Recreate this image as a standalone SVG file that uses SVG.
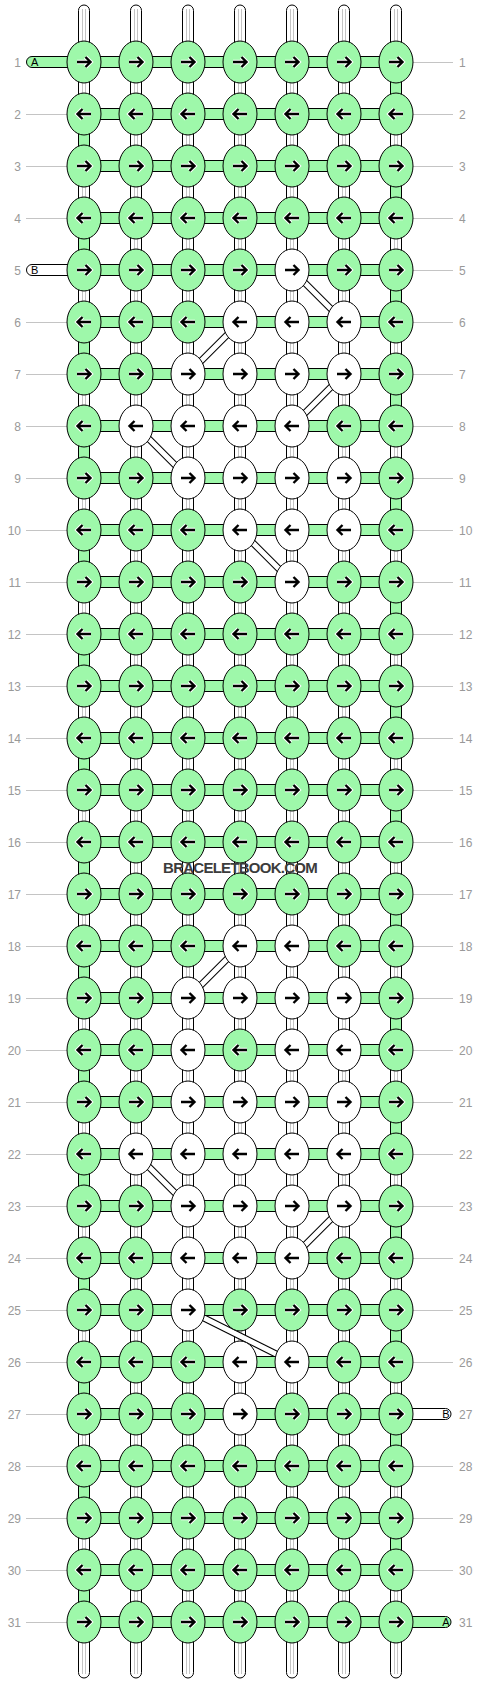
<svg xmlns="http://www.w3.org/2000/svg" xmlns:xlink="http://www.w3.org/1999/xlink" width="480" height="1684" viewBox="0 0 480 1684">
<style>
.g{fill:#9ef8aa;stroke:#000;stroke-width:1}
.w{fill:#fff;stroke:#000;stroke-width:1}
.ah{fill:none;stroke:#fff;stroke-width:4.4}
.a{fill:none;stroke:#000;stroke-width:2.4}
.in{stroke:#c4c4c4;stroke-width:1}
.gl{stroke:#c4c4c4;stroke-width:1}
.lb{font-family:"Liberation Sans",Arial,sans-serif;font-size:12px;fill:#999}
.sl{font-family:"Liberation Sans",Arial,sans-serif;font-size:11px;fill:#000}
.db{stroke:#000;stroke-width:7;fill:none}
.dw{stroke:#fff;stroke-width:5;fill:none}
.wm{font-family:"Liberation Sans",Arial,sans-serif;font-size:15px;font-weight:bold;fill:#3c3c3c;letter-spacing:-0.75px}
</style>
<defs>
<path id="pr" d="M-7,0H6M1.5,-5L6.5,0L1.5,5"/>
<path id="pl" d="M7,0H-6M-1.5,-5L-6.5,0L-1.5,5"/>
<g id="GR"><ellipse class="g" rx="17" ry="21"/><use href="#pr" class="ah"/><use href="#pr" class="a"/></g>
<g id="GL"><ellipse class="g" rx="17" ry="21"/><use href="#pl" class="ah"/><use href="#pl" class="a"/></g>
<g id="WR"><ellipse class="w" rx="17" ry="21"/><use href="#pr" class="a"/></g>
<g id="WL"><ellipse class="w" rx="17" ry="21"/><use href="#pl" class="a"/></g>
<g id="vs"><rect class="w" x="-5.5" y="5" width="11" height="1673" rx="5.5"/><line class="in" x1="-1.5" y1="9" x2="-1.5" y2="1674"/><line class="in" x1="1.5" y1="9" x2="1.5" y2="1674"/></g>
</defs>
<rect width="480" height="1684" fill="#fff"/>
<g id="labels">
<g class="gl">
<line x1="26" y1="114.5" x2="67" y2="114.5"/><line x1="26" y1="166.5" x2="67" y2="166.5"/><line x1="26" y1="218.5" x2="67" y2="218.5"/><line x1="26" y1="322.5" x2="67" y2="322.5"/><line x1="26" y1="374.5" x2="67" y2="374.5"/><line x1="26" y1="426.5" x2="67" y2="426.5"/><line x1="26" y1="478.5" x2="67" y2="478.5"/><line x1="26" y1="530.5" x2="67" y2="530.5"/><line x1="26" y1="582.5" x2="67" y2="582.5"/><line x1="26" y1="634.5" x2="67" y2="634.5"/><line x1="26" y1="686.5" x2="67" y2="686.5"/><line x1="26" y1="738.5" x2="67" y2="738.5"/><line x1="26" y1="790.5" x2="67" y2="790.5"/><line x1="26" y1="842.5" x2="67" y2="842.5"/><line x1="26" y1="894.5" x2="67" y2="894.5"/><line x1="26" y1="946.5" x2="67" y2="946.5"/><line x1="26" y1="998.5" x2="67" y2="998.5"/><line x1="26" y1="1050.5" x2="67" y2="1050.5"/><line x1="26" y1="1102.5" x2="67" y2="1102.5"/><line x1="26" y1="1154.5" x2="67" y2="1154.5"/><line x1="26" y1="1206.5" x2="67" y2="1206.5"/><line x1="26" y1="1258.5" x2="67" y2="1258.5"/><line x1="26" y1="1310.5" x2="67" y2="1310.5"/><line x1="26" y1="1362.5" x2="67" y2="1362.5"/><line x1="26" y1="1414.5" x2="67" y2="1414.5"/><line x1="26" y1="1466.5" x2="67" y2="1466.5"/><line x1="26" y1="1518.5" x2="67" y2="1518.5"/><line x1="26" y1="1570.5" x2="67" y2="1570.5"/><line x1="26" y1="1622.5" x2="67" y2="1622.5"/>
<line x1="413" y1="62.5" x2="453" y2="62.5"/><line x1="413" y1="114.5" x2="453" y2="114.5"/><line x1="413" y1="166.5" x2="453" y2="166.5"/><line x1="413" y1="218.5" x2="453" y2="218.5"/><line x1="413" y1="270.5" x2="453" y2="270.5"/><line x1="413" y1="322.5" x2="453" y2="322.5"/><line x1="413" y1="374.5" x2="453" y2="374.5"/><line x1="413" y1="426.5" x2="453" y2="426.5"/><line x1="413" y1="478.5" x2="453" y2="478.5"/><line x1="413" y1="530.5" x2="453" y2="530.5"/><line x1="413" y1="582.5" x2="453" y2="582.5"/><line x1="413" y1="634.5" x2="453" y2="634.5"/><line x1="413" y1="686.5" x2="453" y2="686.5"/><line x1="413" y1="738.5" x2="453" y2="738.5"/><line x1="413" y1="790.5" x2="453" y2="790.5"/><line x1="413" y1="842.5" x2="453" y2="842.5"/><line x1="413" y1="894.5" x2="453" y2="894.5"/><line x1="413" y1="946.5" x2="453" y2="946.5"/><line x1="413" y1="998.5" x2="453" y2="998.5"/><line x1="413" y1="1050.5" x2="453" y2="1050.5"/><line x1="413" y1="1102.5" x2="453" y2="1102.5"/><line x1="413" y1="1154.5" x2="453" y2="1154.5"/><line x1="413" y1="1206.5" x2="453" y2="1206.5"/><line x1="413" y1="1258.5" x2="453" y2="1258.5"/><line x1="413" y1="1310.5" x2="453" y2="1310.5"/><line x1="413" y1="1362.5" x2="453" y2="1362.5"/><line x1="413" y1="1466.5" x2="453" y2="1466.5"/><line x1="413" y1="1518.5" x2="453" y2="1518.5"/><line x1="413" y1="1570.5" x2="453" y2="1570.5"/>
</g>
<g class="lb" text-anchor="end">
<text x="21" y="66.5">1</text><text x="21" y="118.5">2</text><text x="21" y="170.5">3</text><text x="21" y="222.5">4</text><text x="21" y="274.5">5</text><text x="21" y="326.5">6</text><text x="21" y="378.5">7</text><text x="21" y="430.5">8</text><text x="21" y="482.5">9</text><text x="21" y="534.5">10</text><text x="21" y="586.5">11</text><text x="21" y="638.5">12</text><text x="21" y="690.5">13</text><text x="21" y="742.5">14</text><text x="21" y="794.5">15</text><text x="21" y="846.5">16</text><text x="21" y="898.5">17</text><text x="21" y="950.5">18</text><text x="21" y="1002.5">19</text><text x="21" y="1054.5">20</text><text x="21" y="1106.5">21</text><text x="21" y="1158.5">22</text><text x="21" y="1210.5">23</text><text x="21" y="1262.5">24</text><text x="21" y="1314.5">25</text><text x="21" y="1366.5">26</text><text x="21" y="1418.5">27</text><text x="21" y="1470.5">28</text><text x="21" y="1522.5">29</text><text x="21" y="1574.5">30</text><text x="21" y="1626.5">31</text>
</g>
<g class="lb">
<text x="459" y="66.5">1</text><text x="459" y="118.5">2</text><text x="459" y="170.5">3</text><text x="459" y="222.5">4</text><text x="459" y="274.5">5</text><text x="459" y="326.5">6</text><text x="459" y="378.5">7</text><text x="459" y="430.5">8</text><text x="459" y="482.5">9</text><text x="459" y="534.5">10</text><text x="459" y="586.5">11</text><text x="459" y="638.5">12</text><text x="459" y="690.5">13</text><text x="459" y="742.5">14</text><text x="459" y="794.5">15</text><text x="459" y="846.5">16</text><text x="459" y="898.5">17</text><text x="459" y="950.5">18</text><text x="459" y="1002.5">19</text><text x="459" y="1054.5">20</text><text x="459" y="1106.5">21</text><text x="459" y="1158.5">22</text><text x="459" y="1210.5">23</text><text x="459" y="1262.5">24</text><text x="459" y="1314.5">25</text><text x="459" y="1366.5">26</text><text x="459" y="1418.5">27</text><text x="459" y="1470.5">28</text><text x="459" y="1522.5">29</text><text x="459" y="1574.5">30</text><text x="459" y="1626.5">31</text>
</g>
</g>
<g id="connectors">
<use href="#vs" x="84"/><use href="#vs" x="136"/><use href="#vs" x="188"/><use href="#vs" x="240"/><use href="#vs" x="292"/><use href="#vs" x="344"/><use href="#vs" x="396"/>
<g class="g">
<rect x="78.5" y="114" width="11" height="52"/><rect x="78.5" y="218" width="11" height="52"/><rect x="78.5" y="322" width="11" height="52"/><rect x="78.5" y="426" width="11" height="52"/><rect x="78.5" y="530" width="11" height="52"/><rect x="78.5" y="634" width="11" height="52"/><rect x="78.5" y="738" width="11" height="52"/><rect x="78.5" y="842" width="11" height="52"/><rect x="78.5" y="946" width="11" height="52"/><rect x="78.5" y="1050" width="11" height="52"/><rect x="78.5" y="1154" width="11" height="52"/><rect x="78.5" y="1258" width="11" height="52"/><rect x="78.5" y="1362" width="11" height="52"/><rect x="78.5" y="1466" width="11" height="52"/><rect x="78.5" y="1570" width="11" height="52"/>
<rect x="390.5" y="62" width="11" height="52"/><rect x="390.5" y="166" width="11" height="52"/><rect x="390.5" y="270" width="11" height="52"/><rect x="390.5" y="374" width="11" height="52"/><rect x="390.5" y="478" width="11" height="52"/><rect x="390.5" y="582" width="11" height="52"/><rect x="390.5" y="686" width="11" height="52"/><rect x="390.5" y="790" width="11" height="52"/><rect x="390.5" y="894" width="11" height="52"/><rect x="390.5" y="998" width="11" height="52"/><rect x="390.5" y="1102" width="11" height="52"/><rect x="390.5" y="1206" width="11" height="52"/><rect x="390.5" y="1310" width="11" height="52"/><rect x="390.5" y="1414" width="11" height="52"/><rect x="390.5" y="1518" width="11" height="52"/>
</g>
<g id="diagonals">
<path class="db" d="M292,270L344,322M240,322L188,374M344,374L292,426M136,426L188,478M240,530L292,582M240,946L188,998M136,1154L188,1206M344,1206L292,1258M188,1310L292,1362"/>
<path class="dw" d="M292,270L344,322M240,322L188,374M344,374L292,426M136,426L188,478M240,530L292,582M240,946L188,998M136,1154L188,1206M344,1206L292,1258M188,1310L292,1362"/>
</g>
<g class="g">
<rect x="84" y="56.5" width="312" height="11"/><rect x="84" y="108.5" width="312" height="11"/><rect x="84" y="160.5" width="312" height="11"/><rect x="84" y="212.5" width="312" height="11"/><rect x="84" y="264.5" width="312" height="11"/><rect x="84" y="316.5" width="312" height="11"/><rect x="84" y="368.5" width="312" height="11"/><rect x="84" y="420.5" width="312" height="11"/><rect x="84" y="472.5" width="312" height="11"/><rect x="84" y="524.5" width="312" height="11"/><rect x="84" y="576.5" width="312" height="11"/><rect x="84" y="628.5" width="312" height="11"/><rect x="84" y="680.5" width="312" height="11"/><rect x="84" y="732.5" width="312" height="11"/><rect x="84" y="784.5" width="312" height="11"/><rect x="84" y="836.5" width="312" height="11"/><rect x="84" y="888.5" width="312" height="11"/><rect x="84" y="940.5" width="312" height="11"/><rect x="84" y="992.5" width="312" height="11"/><rect x="84" y="1044.5" width="312" height="11"/><rect x="84" y="1096.5" width="312" height="11"/><rect x="84" y="1148.5" width="312" height="11"/><rect x="84" y="1200.5" width="312" height="11"/><rect x="84" y="1252.5" width="312" height="11"/><rect x="84" y="1304.5" width="312" height="11"/><rect x="84" y="1356.5" width="312" height="11"/><rect x="84" y="1408.5" width="312" height="11"/><rect x="84" y="1460.5" width="312" height="11"/><rect x="84" y="1512.5" width="312" height="11"/><rect x="84" y="1564.5" width="312" height="11"/><rect x="84" y="1616.5" width="312" height="11"/>
</g>
<g id="stringA-left"><rect class="g" x="26.5" y="56.5" width="60" height="11" rx="5.5"/><text class="sl" x="31" y="66">A</text></g>
<g id="stringB-left"><rect class="w" x="26.5" y="264.5" width="60" height="11" rx="5.5"/><text class="sl" x="31" y="274">B</text></g>
<g id="stringB-right"><rect class="w" x="393.5" y="1408.5" width="57.5" height="11" rx="5.5"/><text class="sl" x="449.5" y="1418" text-anchor="end">B</text></g>
<g id="stringA-right"><rect class="g" x="393.5" y="1616.5" width="57.5" height="11" rx="5.5"/><text class="sl" x="449.5" y="1626" text-anchor="end">A</text></g>
</g>
<g id="knots">
<g id="k1-1" transform="translate(84,62)"><use href="#GR"/></g><g id="k1-2" transform="translate(136,62)"><use href="#GR"/></g><g id="k1-3" transform="translate(188,62)"><use href="#GR"/></g><g id="k1-4" transform="translate(240,62)"><use href="#GR"/></g><g id="k1-5" transform="translate(292,62)"><use href="#GR"/></g><g id="k1-6" transform="translate(344,62)"><use href="#GR"/></g><g id="k1-7" transform="translate(396,62)"><use href="#GR"/></g>
<g id="k2-1" transform="translate(84,114)"><use href="#GL"/></g><g id="k2-2" transform="translate(136,114)"><use href="#GL"/></g><g id="k2-3" transform="translate(188,114)"><use href="#GL"/></g><g id="k2-4" transform="translate(240,114)"><use href="#GL"/></g><g id="k2-5" transform="translate(292,114)"><use href="#GL"/></g><g id="k2-6" transform="translate(344,114)"><use href="#GL"/></g><g id="k2-7" transform="translate(396,114)"><use href="#GL"/></g>
<g id="k3-1" transform="translate(84,166)"><use href="#GR"/></g><g id="k3-2" transform="translate(136,166)"><use href="#GR"/></g><g id="k3-3" transform="translate(188,166)"><use href="#GR"/></g><g id="k3-4" transform="translate(240,166)"><use href="#GR"/></g><g id="k3-5" transform="translate(292,166)"><use href="#GR"/></g><g id="k3-6" transform="translate(344,166)"><use href="#GR"/></g><g id="k3-7" transform="translate(396,166)"><use href="#GR"/></g>
<g id="k4-1" transform="translate(84,218)"><use href="#GL"/></g><g id="k4-2" transform="translate(136,218)"><use href="#GL"/></g><g id="k4-3" transform="translate(188,218)"><use href="#GL"/></g><g id="k4-4" transform="translate(240,218)"><use href="#GL"/></g><g id="k4-5" transform="translate(292,218)"><use href="#GL"/></g><g id="k4-6" transform="translate(344,218)"><use href="#GL"/></g><g id="k4-7" transform="translate(396,218)"><use href="#GL"/></g>
<g id="k5-1" transform="translate(84,270)"><use href="#GR"/></g><g id="k5-2" transform="translate(136,270)"><use href="#GR"/></g><g id="k5-3" transform="translate(188,270)"><use href="#GR"/></g><g id="k5-4" transform="translate(240,270)"><use href="#GR"/></g><g id="k5-5" transform="translate(292,270)"><use href="#WR"/></g><g id="k5-6" transform="translate(344,270)"><use href="#GR"/></g><g id="k5-7" transform="translate(396,270)"><use href="#GR"/></g>
<g id="k6-1" transform="translate(84,322)"><use href="#GL"/></g><g id="k6-2" transform="translate(136,322)"><use href="#GL"/></g><g id="k6-3" transform="translate(188,322)"><use href="#GL"/></g><g id="k6-4" transform="translate(240,322)"><use href="#WL"/></g><g id="k6-5" transform="translate(292,322)"><use href="#WL"/></g><g id="k6-6" transform="translate(344,322)"><use href="#WL"/></g><g id="k6-7" transform="translate(396,322)"><use href="#GL"/></g>
<g id="k7-1" transform="translate(84,374)"><use href="#GR"/></g><g id="k7-2" transform="translate(136,374)"><use href="#GR"/></g><g id="k7-3" transform="translate(188,374)"><use href="#WR"/></g><g id="k7-4" transform="translate(240,374)"><use href="#WR"/></g><g id="k7-5" transform="translate(292,374)"><use href="#WR"/></g><g id="k7-6" transform="translate(344,374)"><use href="#WR"/></g><g id="k7-7" transform="translate(396,374)"><use href="#GR"/></g>
<g id="k8-1" transform="translate(84,426)"><use href="#GL"/></g><g id="k8-2" transform="translate(136,426)"><use href="#WL"/></g><g id="k8-3" transform="translate(188,426)"><use href="#WL"/></g><g id="k8-4" transform="translate(240,426)"><use href="#WL"/></g><g id="k8-5" transform="translate(292,426)"><use href="#WL"/></g><g id="k8-6" transform="translate(344,426)"><use href="#GL"/></g><g id="k8-7" transform="translate(396,426)"><use href="#GL"/></g>
<g id="k9-1" transform="translate(84,478)"><use href="#GR"/></g><g id="k9-2" transform="translate(136,478)"><use href="#GR"/></g><g id="k9-3" transform="translate(188,478)"><use href="#WR"/></g><g id="k9-4" transform="translate(240,478)"><use href="#WR"/></g><g id="k9-5" transform="translate(292,478)"><use href="#WR"/></g><g id="k9-6" transform="translate(344,478)"><use href="#WR"/></g><g id="k9-7" transform="translate(396,478)"><use href="#GR"/></g>
<g id="k10-1" transform="translate(84,530)"><use href="#GL"/></g><g id="k10-2" transform="translate(136,530)"><use href="#GL"/></g><g id="k10-3" transform="translate(188,530)"><use href="#GL"/></g><g id="k10-4" transform="translate(240,530)"><use href="#WL"/></g><g id="k10-5" transform="translate(292,530)"><use href="#WL"/></g><g id="k10-6" transform="translate(344,530)"><use href="#WL"/></g><g id="k10-7" transform="translate(396,530)"><use href="#GL"/></g>
<g id="k11-1" transform="translate(84,582)"><use href="#GR"/></g><g id="k11-2" transform="translate(136,582)"><use href="#GR"/></g><g id="k11-3" transform="translate(188,582)"><use href="#GR"/></g><g id="k11-4" transform="translate(240,582)"><use href="#GR"/></g><g id="k11-5" transform="translate(292,582)"><use href="#WR"/></g><g id="k11-6" transform="translate(344,582)"><use href="#GR"/></g><g id="k11-7" transform="translate(396,582)"><use href="#GR"/></g>
<g id="k12-1" transform="translate(84,634)"><use href="#GL"/></g><g id="k12-2" transform="translate(136,634)"><use href="#GL"/></g><g id="k12-3" transform="translate(188,634)"><use href="#GL"/></g><g id="k12-4" transform="translate(240,634)"><use href="#GL"/></g><g id="k12-5" transform="translate(292,634)"><use href="#GL"/></g><g id="k12-6" transform="translate(344,634)"><use href="#GL"/></g><g id="k12-7" transform="translate(396,634)"><use href="#GL"/></g>
<g id="k13-1" transform="translate(84,686)"><use href="#GR"/></g><g id="k13-2" transform="translate(136,686)"><use href="#GR"/></g><g id="k13-3" transform="translate(188,686)"><use href="#GR"/></g><g id="k13-4" transform="translate(240,686)"><use href="#GR"/></g><g id="k13-5" transform="translate(292,686)"><use href="#GR"/></g><g id="k13-6" transform="translate(344,686)"><use href="#GR"/></g><g id="k13-7" transform="translate(396,686)"><use href="#GR"/></g>
<g id="k14-1" transform="translate(84,738)"><use href="#GL"/></g><g id="k14-2" transform="translate(136,738)"><use href="#GL"/></g><g id="k14-3" transform="translate(188,738)"><use href="#GL"/></g><g id="k14-4" transform="translate(240,738)"><use href="#GL"/></g><g id="k14-5" transform="translate(292,738)"><use href="#GL"/></g><g id="k14-6" transform="translate(344,738)"><use href="#GL"/></g><g id="k14-7" transform="translate(396,738)"><use href="#GL"/></g>
<g id="k15-1" transform="translate(84,790)"><use href="#GR"/></g><g id="k15-2" transform="translate(136,790)"><use href="#GR"/></g><g id="k15-3" transform="translate(188,790)"><use href="#GR"/></g><g id="k15-4" transform="translate(240,790)"><use href="#GR"/></g><g id="k15-5" transform="translate(292,790)"><use href="#GR"/></g><g id="k15-6" transform="translate(344,790)"><use href="#GR"/></g><g id="k15-7" transform="translate(396,790)"><use href="#GR"/></g>
<g id="k16-1" transform="translate(84,842)"><use href="#GL"/></g><g id="k16-2" transform="translate(136,842)"><use href="#GL"/></g><g id="k16-3" transform="translate(188,842)"><use href="#GL"/></g><g id="k16-4" transform="translate(240,842)"><use href="#GL"/></g><g id="k16-5" transform="translate(292,842)"><use href="#GL"/></g><g id="k16-6" transform="translate(344,842)"><use href="#GL"/></g><g id="k16-7" transform="translate(396,842)"><use href="#GL"/></g>
<g id="k17-1" transform="translate(84,894)"><use href="#GR"/></g><g id="k17-2" transform="translate(136,894)"><use href="#GR"/></g><g id="k17-3" transform="translate(188,894)"><use href="#GR"/></g><g id="k17-4" transform="translate(240,894)"><use href="#GR"/></g><g id="k17-5" transform="translate(292,894)"><use href="#GR"/></g><g id="k17-6" transform="translate(344,894)"><use href="#GR"/></g><g id="k17-7" transform="translate(396,894)"><use href="#GR"/></g>
<g id="k18-1" transform="translate(84,946)"><use href="#GL"/></g><g id="k18-2" transform="translate(136,946)"><use href="#GL"/></g><g id="k18-3" transform="translate(188,946)"><use href="#GL"/></g><g id="k18-4" transform="translate(240,946)"><use href="#WL"/></g><g id="k18-5" transform="translate(292,946)"><use href="#WL"/></g><g id="k18-6" transform="translate(344,946)"><use href="#GL"/></g><g id="k18-7" transform="translate(396,946)"><use href="#GL"/></g>
<g id="k19-1" transform="translate(84,998)"><use href="#GR"/></g><g id="k19-2" transform="translate(136,998)"><use href="#GR"/></g><g id="k19-3" transform="translate(188,998)"><use href="#WR"/></g><g id="k19-4" transform="translate(240,998)"><use href="#WR"/></g><g id="k19-5" transform="translate(292,998)"><use href="#WR"/></g><g id="k19-6" transform="translate(344,998)"><use href="#WR"/></g><g id="k19-7" transform="translate(396,998)"><use href="#GR"/></g>
<g id="k20-1" transform="translate(84,1050)"><use href="#GL"/></g><g id="k20-2" transform="translate(136,1050)"><use href="#GL"/></g><g id="k20-3" transform="translate(188,1050)"><use href="#WL"/></g><g id="k20-4" transform="translate(240,1050)"><use href="#GL"/></g><g id="k20-5" transform="translate(292,1050)"><use href="#WL"/></g><g id="k20-6" transform="translate(344,1050)"><use href="#WL"/></g><g id="k20-7" transform="translate(396,1050)"><use href="#GL"/></g>
<g id="k21-1" transform="translate(84,1102)"><use href="#GR"/></g><g id="k21-2" transform="translate(136,1102)"><use href="#GR"/></g><g id="k21-3" transform="translate(188,1102)"><use href="#WR"/></g><g id="k21-4" transform="translate(240,1102)"><use href="#WR"/></g><g id="k21-5" transform="translate(292,1102)"><use href="#WR"/></g><g id="k21-6" transform="translate(344,1102)"><use href="#WR"/></g><g id="k21-7" transform="translate(396,1102)"><use href="#GR"/></g>
<g id="k22-1" transform="translate(84,1154)"><use href="#GL"/></g><g id="k22-2" transform="translate(136,1154)"><use href="#WL"/></g><g id="k22-3" transform="translate(188,1154)"><use href="#WL"/></g><g id="k22-4" transform="translate(240,1154)"><use href="#WL"/></g><g id="k22-5" transform="translate(292,1154)"><use href="#WL"/></g><g id="k22-6" transform="translate(344,1154)"><use href="#WL"/></g><g id="k22-7" transform="translate(396,1154)"><use href="#GL"/></g>
<g id="k23-1" transform="translate(84,1206)"><use href="#GR"/></g><g id="k23-2" transform="translate(136,1206)"><use href="#GR"/></g><g id="k23-3" transform="translate(188,1206)"><use href="#WR"/></g><g id="k23-4" transform="translate(240,1206)"><use href="#WR"/></g><g id="k23-5" transform="translate(292,1206)"><use href="#WR"/></g><g id="k23-6" transform="translate(344,1206)"><use href="#WR"/></g><g id="k23-7" transform="translate(396,1206)"><use href="#GR"/></g>
<g id="k24-1" transform="translate(84,1258)"><use href="#GL"/></g><g id="k24-2" transform="translate(136,1258)"><use href="#GL"/></g><g id="k24-3" transform="translate(188,1258)"><use href="#WL"/></g><g id="k24-4" transform="translate(240,1258)"><use href="#WL"/></g><g id="k24-5" transform="translate(292,1258)"><use href="#WL"/></g><g id="k24-6" transform="translate(344,1258)"><use href="#GL"/></g><g id="k24-7" transform="translate(396,1258)"><use href="#GL"/></g>
<g id="k25-1" transform="translate(84,1310)"><use href="#GR"/></g><g id="k25-2" transform="translate(136,1310)"><use href="#GR"/></g><g id="k25-3" transform="translate(188,1310)"><use href="#WR"/></g><g id="k25-4" transform="translate(240,1310)"><use href="#GR"/></g><g id="k25-5" transform="translate(292,1310)"><use href="#GR"/></g><g id="k25-6" transform="translate(344,1310)"><use href="#GR"/></g><g id="k25-7" transform="translate(396,1310)"><use href="#GR"/></g>
<g id="k26-1" transform="translate(84,1362)"><use href="#GL"/></g><g id="k26-2" transform="translate(136,1362)"><use href="#GL"/></g><g id="k26-3" transform="translate(188,1362)"><use href="#GL"/></g><g id="k26-4" transform="translate(240,1362)"><use href="#WL"/></g><g id="k26-5" transform="translate(292,1362)"><use href="#WL"/></g><g id="k26-6" transform="translate(344,1362)"><use href="#GL"/></g><g id="k26-7" transform="translate(396,1362)"><use href="#GL"/></g>
<g id="k27-1" transform="translate(84,1414)"><use href="#GR"/></g><g id="k27-2" transform="translate(136,1414)"><use href="#GR"/></g><g id="k27-3" transform="translate(188,1414)"><use href="#GR"/></g><g id="k27-4" transform="translate(240,1414)"><use href="#WR"/></g><g id="k27-5" transform="translate(292,1414)"><use href="#GR"/></g><g id="k27-6" transform="translate(344,1414)"><use href="#GR"/></g><g id="k27-7" transform="translate(396,1414)"><use href="#GR"/></g>
<g id="k28-1" transform="translate(84,1466)"><use href="#GL"/></g><g id="k28-2" transform="translate(136,1466)"><use href="#GL"/></g><g id="k28-3" transform="translate(188,1466)"><use href="#GL"/></g><g id="k28-4" transform="translate(240,1466)"><use href="#GL"/></g><g id="k28-5" transform="translate(292,1466)"><use href="#GL"/></g><g id="k28-6" transform="translate(344,1466)"><use href="#GL"/></g><g id="k28-7" transform="translate(396,1466)"><use href="#GL"/></g>
<g id="k29-1" transform="translate(84,1518)"><use href="#GR"/></g><g id="k29-2" transform="translate(136,1518)"><use href="#GR"/></g><g id="k29-3" transform="translate(188,1518)"><use href="#GR"/></g><g id="k29-4" transform="translate(240,1518)"><use href="#GR"/></g><g id="k29-5" transform="translate(292,1518)"><use href="#GR"/></g><g id="k29-6" transform="translate(344,1518)"><use href="#GR"/></g><g id="k29-7" transform="translate(396,1518)"><use href="#GR"/></g>
<g id="k30-1" transform="translate(84,1570)"><use href="#GL"/></g><g id="k30-2" transform="translate(136,1570)"><use href="#GL"/></g><g id="k30-3" transform="translate(188,1570)"><use href="#GL"/></g><g id="k30-4" transform="translate(240,1570)"><use href="#GL"/></g><g id="k30-5" transform="translate(292,1570)"><use href="#GL"/></g><g id="k30-6" transform="translate(344,1570)"><use href="#GL"/></g><g id="k30-7" transform="translate(396,1570)"><use href="#GL"/></g>
<g id="k31-1" transform="translate(84,1622)"><use href="#GR"/></g><g id="k31-2" transform="translate(136,1622)"><use href="#GR"/></g><g id="k31-3" transform="translate(188,1622)"><use href="#GR"/></g><g id="k31-4" transform="translate(240,1622)"><use href="#GR"/></g><g id="k31-5" transform="translate(292,1622)"><use href="#GR"/></g><g id="k31-6" transform="translate(344,1622)"><use href="#GR"/></g><g id="k31-7" transform="translate(396,1622)"><use href="#GR"/></g>
</g>
<text id="watermark" class="wm" x="240" y="873" text-anchor="middle">BRACELETBOOK.COM</text>
</svg>
